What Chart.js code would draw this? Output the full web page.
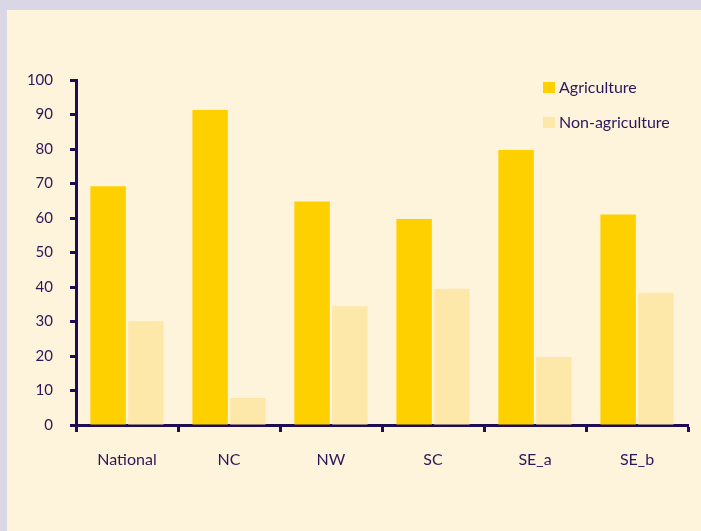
<!DOCTYPE html>
<html>
<head>
<meta charset="utf-8">
<script src="https://cdn.jsdelivr.net/npm/chart.js@4"></script>
<style>
	html, body { margin: 0; padding: 0; background: #d9d6e6; }
	#wrap { width: 701px; height: 531px; position: relative; }
</style>
</head>
<body>
<div id="wrap"><canvas id="chart" width="701" height="531"></canvas></div>
<script>
const regions = ["National", "NC", "NW", "SC", "SE_a", "SE_b"]
const agriculture = [69.2, 91.3, 64.8, 59.7, 79.7, 61.0]
const nonAgriculture = [30.1, 7.8, 34.4, 39.5, 19.7, 38.3]
const yTicks = [0, 10, 20, 30, 40, 50, 60, 70, 80, 90, 100]

const ink = "#1f0c52"
const textInk = "#2a1759"
const family = "Lato, 'Open Sans', sans-serif"

// lavender frame with the cream panel
const panel = {
	id: "panel",
	beforeDraw(chart) {
		const ctx = chart.ctx
		ctx.save()
		ctx.fillStyle = "#d9d6e6"
		ctx.fillRect(0, 0, chart.width, chart.height)
		ctx.fillStyle = "#fef4dc"
		ctx.fillRect(7, 10, chart.width - 7, chart.height - 10)
		ctx.restore()
	}
}

// legend in the top right corner of the plot
const cornerLegend = {
	id: "cornerLegend",
	afterDraw(chart) {
		const ctx = chart.ctx
		ctx.save()
		ctx.font = "16px " + family
		ctx.textBaseline = "middle"
		chart.data.datasets.forEach((ds, i) => {
			const y = 88 + i * 35
			ctx.fillStyle = ds.backgroundColor
			ctx.fillRect(543, y - 6, 12, 11)
			ctx.fillStyle = textInk
			ctx.fillText(ds.label, 559, y)
		})
		ctx.restore()
	}
}

new Chart(document.getElementById("chart").getContext("2d"), {
	type: "bar",
	data: {
		labels: regions,
		datasets: [
			{
				label: "Agriculture",
				data: agriculture,
				backgroundColor: "#ffd000",
				borderWidth: 0,
				categoryPercentage: 0.74,
				barPercentage: 0.94
			},
			{
				label: "Non-agriculture",
				data: nonAgriculture,
				backgroundColor: "#fde8a9",
				borderWidth: 0,
				categoryPercentage: 0.74,
				barPercentage: 0.94
			}
		]
	},
	options: {
		responsive: false,
		animation: false,
		layout: {
			padding: { top: 80, right: 13, bottom: 0, left: 0 }
		},
		scales: {
			x: {
				afterFit(scale) { scale.height = 106 },
				border: { display: true, color: ink, width: 3 },
				grid: {
					offset: true,
					drawOnChartArea: false,
					drawTicks: true,
					tickLength: 7,
					tickWidth: 3,
					tickColor: ink
				},
				ticks: {
					color: textInk,
					font: { family: family, size: 16 },
					padding: 18
				}
			},
			y: {
				min: 0,
				max: 100,
				afterFit(scale) { scale.width = 76 },
				afterBuildTicks(scale) { scale.ticks = yTicks.map(v => ({ value: v })) },
				border: { display: true, color: ink, width: 3 },
				grid: {
					drawOnChartArea: false,
					drawTicks: true,
					tickLength: 6,
					tickWidth: 3,
					tickColor: ink
				},
				ticks: {
					color: textInk,
					font: { family: family, size: 15 },
					padding: 17
				}
			}
		},
		plugins: {
			legend: { display: false },
			tooltip: { enabled: false }
		}
	},
	plugins: [panel, cornerLegend]
})
</script>
</body>
</html>
